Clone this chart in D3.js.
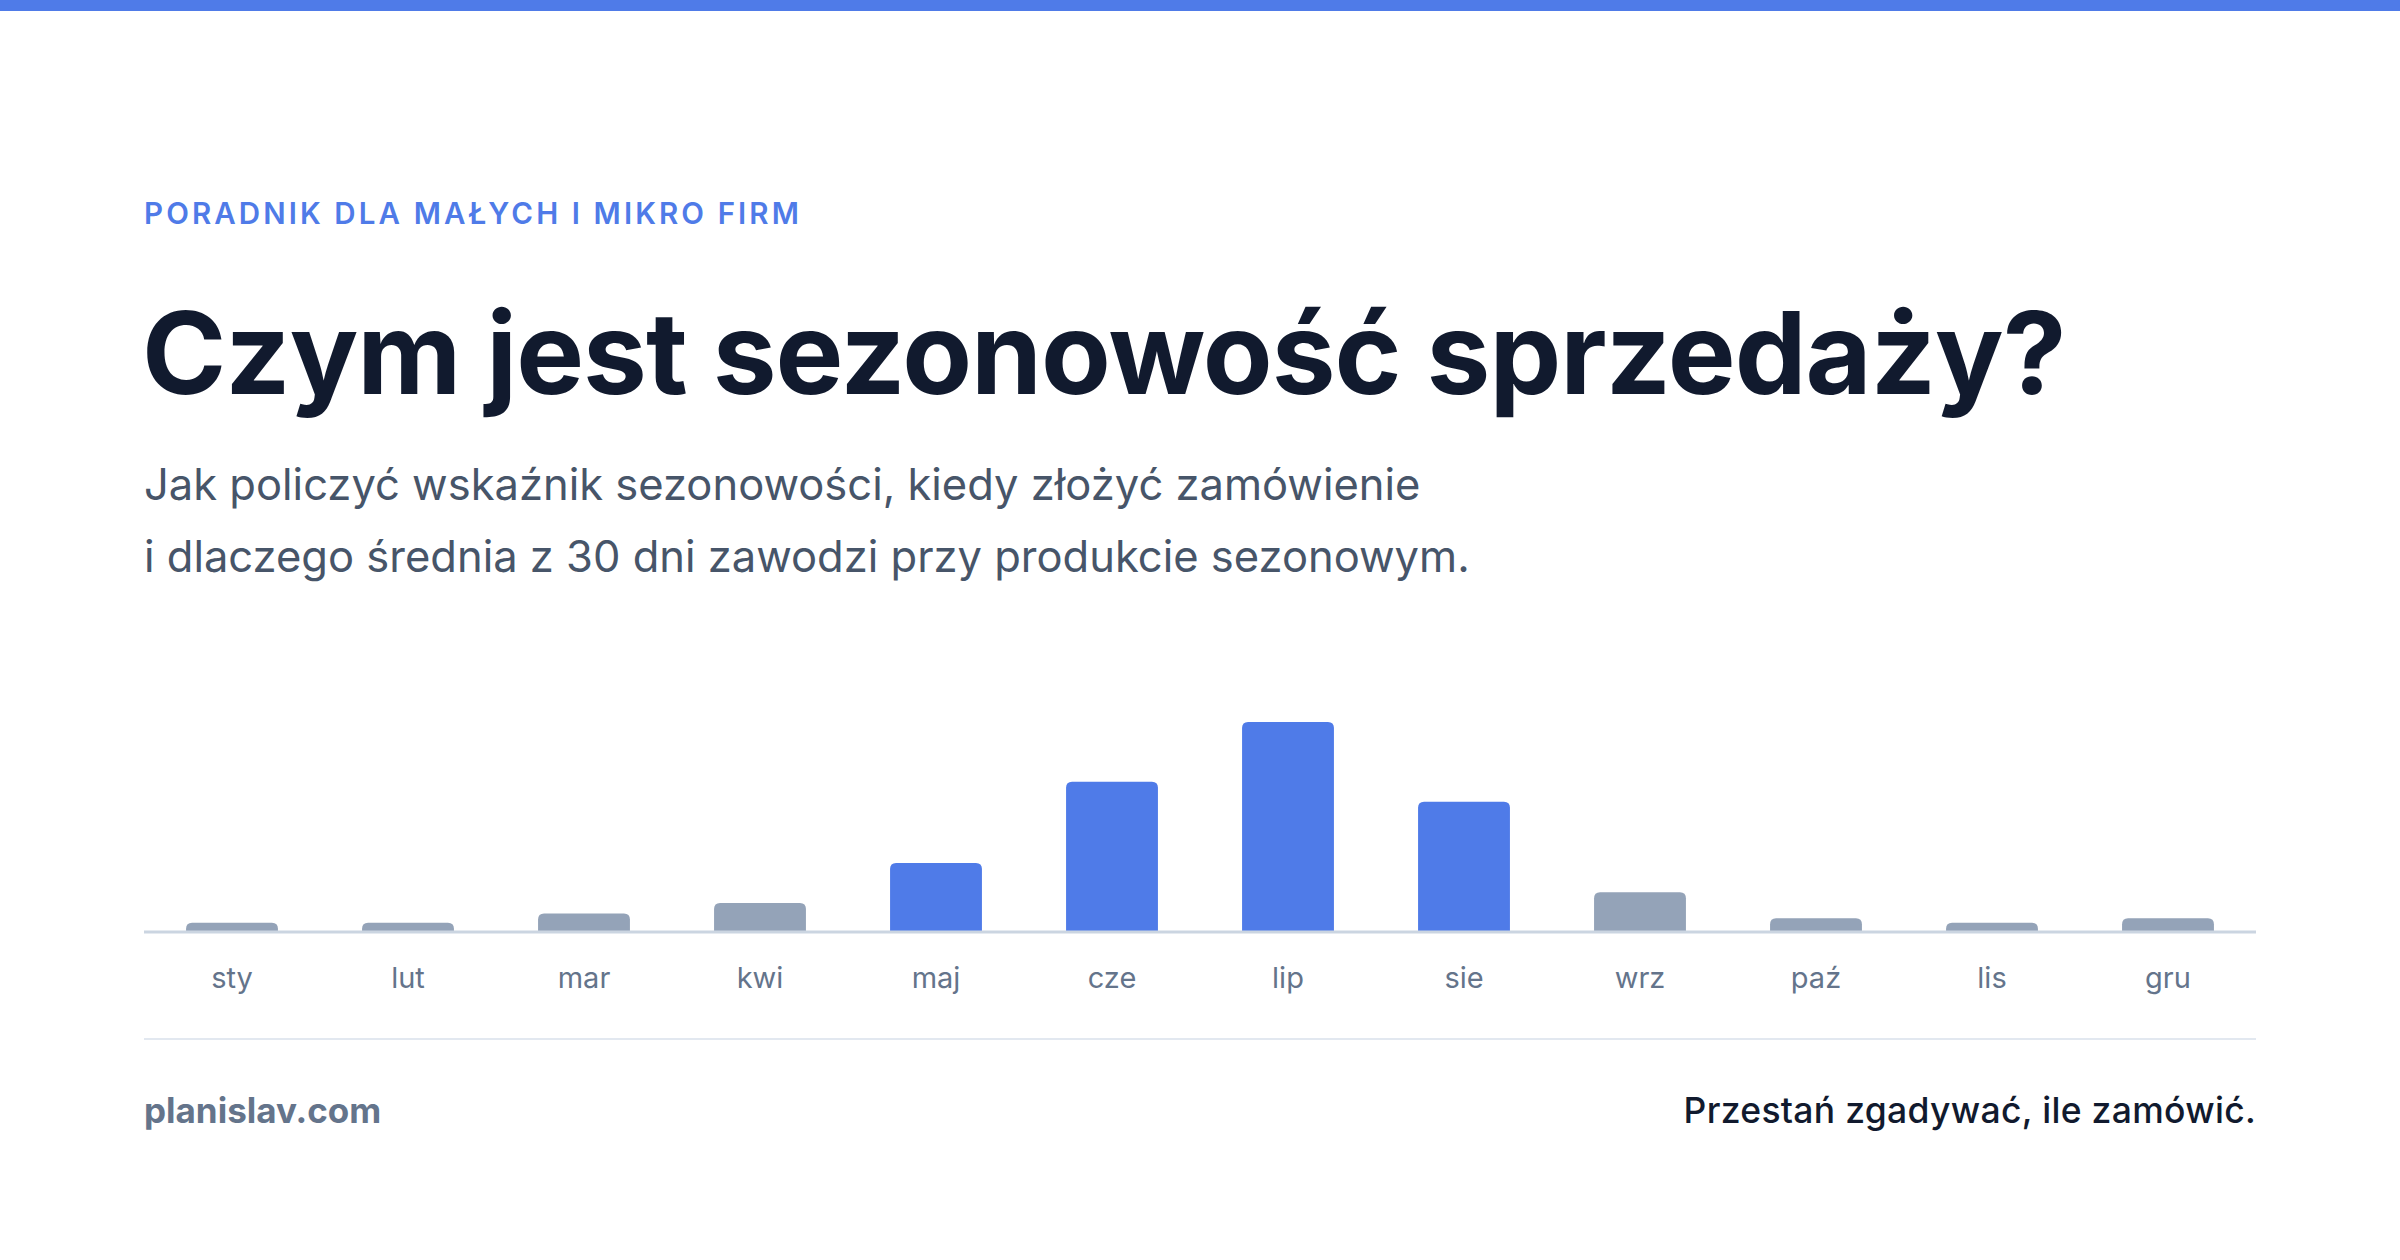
<!DOCTYPE html>
<html><head><meta charset="utf-8">
<script src="https://cdn.jsdelivr.net/npm/d3@7"></script>
<style>html,body{margin:0;padding:0;background:#fff}svg{display:block}</style>
</head><body>
<script>
const months = ["sty","lut","mar","kwi","maj","cze","lip","sie","wrz","paź","lis","gru"];
const values = [6,6,12,19,45,98,137,85,26,9,6,9];
const highlighted = ["maj","cze","lip","sie"];
const kicker = "PORADNIK DLA MAŁYCH I MIKRO FIRM";
const title = "Czym jest sezonowość sprzedaży?";
const subtitle = ["Jak policzyć wskaźnik sezonowości, kiedy złożyć zamówienie","i dlaczego średnia z 30 dni zawodzi przy produkcie sezonowym."];
const footerLeft = "planislav.com";
const footerRight = "Przestań zgadywać, ile zamówić.";

const W=2400,H=1260,L=144,R=2256,font="Inter, 'Noto Sans', sans-serif";
const svg=d3.select("body").append("svg").attr("width",W).attr("height",H).style("font-family",font);
svg.append("rect").attr("width",W).attr("height",11).attr("fill","#4F7BE8");
svg.append("text").attr("x",L).attr("y",224).attr("font-size",29.5).attr("font-weight",600).attr("letter-spacing",3.1).attr("fill","#4F7BE8").text(kicker);
svg.append("text").attr("x",L-2).attr("y",394).attr("font-size",114).attr("font-weight",700).attr("letter-spacing",-1).attr("fill","#111a2e").text(title);
subtitle.forEach((s,i)=>svg.append("text").attr("x",L).attr("y",500+i*72).attr("font-size",43.5).attr("fill","#475569").text(s));

const base=932;
const x=d3.scaleBand().domain(months).range([L,R]).paddingInner(0.478).paddingOuter(0.239);
const y=d3.scaleLinear().domain([0,137]).range([base,base-210]);
const g=svg.append("g");
months.forEach((m,i)=>{
  const x0=x(m),w=x.bandwidth(),yt=y(values[i]),h=base-yt,r=Math.min(6,h);
  g.append("path").attr("fill",highlighted.includes(m)?"#4F7BE8":"#94A3B8")
   .attr("d",`M${x0},${base}V${yt+r}Q${x0},${yt} ${x0+r},${yt}H${x0+w-r}Q${x0+w},${yt} ${x0+w},${yt+r}V${base}Z`);
});
svg.append("line").attr("x1",L).attr("x2",R).attr("y1",base).attr("y2",base).attr("stroke","#CBD5E1").attr("stroke-width",3);
const ax=svg.append("g").attr("transform",`translate(0,${base})`).call(d3.axisBottom(x).tickSize(0).tickPadding(0));
ax.select(".domain").remove();
ax.selectAll("text").attr("y",56).attr("dy",0).attr("font-size",29).attr("font-family",font).attr("fill","#64748B");
svg.append("line").attr("x1",L).attr("x2",R).attr("y1",1039).attr("y2",1039).attr("stroke","#E2E8F0").attr("stroke-width",2);
svg.append("text").attr("x",L).attr("y",1123).attr("font-size",35).attr("font-weight",700).attr("fill","#64748B").text(footerLeft);
svg.append("text").attr("x",R).attr("y",1123).attr("text-anchor","end").attr("font-size",35.5).attr("font-weight",500).attr("letter-spacing",0.3).attr("fill","#111a2e").text(footerRight);
</script>
</body></html>
